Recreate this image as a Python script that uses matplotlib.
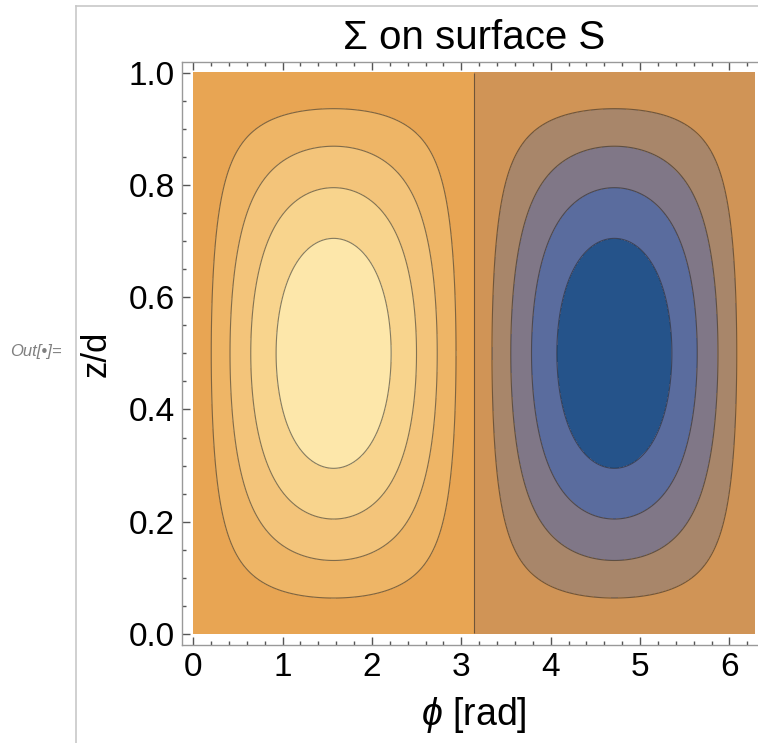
import numpy as np
import matplotlib
matplotlib.use("Agg")
import matplotlib.pyplot as plt
from matplotlib.ticker import MultipleLocator

plt.rcParams["font.family"] = ["Liberation Sans", "DejaVu Sans"]
plt.rcParams["mathtext.fontset"] = "custom"
plt.rcParams["mathtext.it"] = "Liberation Sans:italic"
plt.rcParams["mathtext.rm"] = "Liberation Sans"

# field: Sigma = sin(m*phi) * sin(n*pi*z/d)
m_phi = 1
n_z = 1
phi_range = (0.0, 2 * np.pi)
z_range = (0.0, 1.0)

levels = [-1.01, -0.8, -0.6, -0.4, -0.2, 0.0, 0.2, 0.4, 0.6, 0.8, 1.01]
line_levels = [-0.8, -0.6, -0.4, -0.2, 0.0, 0.2, 0.4, 0.6, 0.8]
fill_colors = ["#25538a", "#5a6c9e", "#807787", "#a8866a", "#d09456",
               "#e8a553", "#eeb566", "#f3c47a", "#f8d48d", "#fde7aa"]

x_ticks = [0, 1, 2, 3, 4, 5, 6]
y_ticks = [0.0, 0.2, 0.4, 0.6, 0.8, 1.0]


def sigma(phi, z):
    return np.sin(m_phi * phi) * np.sin(n_z * np.pi * z)


fig = plt.figure(figsize=(7.58, 7.43), dpi=100)

# notebook cell decoration
fig.add_artist(plt.Line2D([76 / 758, 76 / 758], [0, 1 - 6 / 743],
                          color="#c8c8c8", lw=1.2, transform=fig.transFigure))
fig.add_artist(plt.Line2D([76 / 758, 1], [1 - 6 / 743, 1 - 6 / 743],
                          color="#c8c8c8", lw=1.2, transform=fig.transFigure))
fig.text(10 / 758, 1 - 352 / 743, "Out[\u2022]=", fontsize=12, style="italic",
         color="#808080", va="center", ha="left")

ax = fig.add_axes([182 / 758, 1 - 645 / 743, 584 / 758, 583.3 / 743])

phi = np.linspace(*phi_range, 500)
z = np.linspace(*z_range, 500)
P, Z = np.meshgrid(phi, z)
ax.contourf(P, Z, sigma(P, Z), levels=levels, colors=fill_colors)

# lines on a grid just inside the edges so the zero level is not drawn along them
eps = 1e-3
phi_i = np.linspace(phi_range[0] + eps, phi_range[1] - eps, 500)
z_i = np.linspace(z_range[0] + eps, z_range[1] - eps, 500)
Pi, Zi = np.meshgrid(phi_i, z_i)
ax.contour(Pi, Zi, sigma(Pi, Zi), levels=line_levels, colors="#222222",
           linewidths=0.8, alpha=0.55, linestyles="solid")

pad_x = 0.126
ax.set_xlim(phi_range[0] - pad_x, phi_range[1] + pad_x)
ax.set_ylim(-0.0196, 1.0196)

ax.set_xticks(x_ticks)
ax.set_yticks(y_ticks)
ax.set_yticklabels([f"{t:.1f}" for t in y_ticks])
ax.xaxis.set_minor_locator(MultipleLocator(0.2))
ax.yaxis.set_minor_locator(MultipleLocator(0.05))
ax.tick_params(which="both", direction="in", top=True, right=True,
               color="#555555", width=1)
ax.tick_params(which="major", length=6, labelsize=24, pad=5)
ax.tick_params(which="minor", length=3.2)
for s in ax.spines.values():
    s.set_color("#999999")
    s.set_linewidth(1)

ax.set_title("\u03a3 on surface S", fontsize=29, pad=9)
ax.set_xlabel(r"$\phi$ [rad]", fontsize=27, labelpad=9)
ax.set_ylabel("z/d", fontsize=25, labelpad=12)

fig.savefig("out.png", dpi=100)
